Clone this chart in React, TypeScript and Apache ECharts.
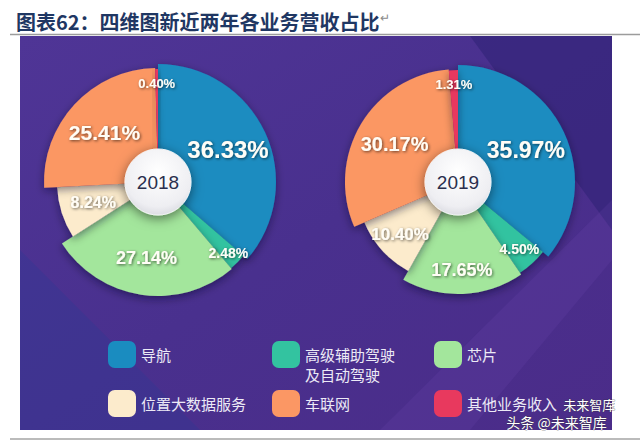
import React, { useEffect, useRef } from "react";
import * as echarts from "echarts";

// ---- data ----
const TITLE = "图表62：四维图新近两年各业务营收占比";
const CATEGORIES = ["导航", "高级辅助驾驶及自动驾驶", "芯片", "位置大数据服务", "车联网", "其他业务收入"];
const LEGEND_TEXT = ["导航", "\n高级辅助驾驶\n及自动驾驶", "芯片", "位置大数据服务", "车联网", "其他业务收入"];
const YEARS = ["2018", "2019"];
const SHARE_2018 = [36.33, 2.48, 27.14, 8.24, 25.41, 0.4];
const SHARE_2019 = [35.97, 4.5, 17.65, 10.4, 30.17, 1.31];
const SHARES = [SHARE_2018, SHARE_2019];

// ---- styles ----
const COLORS = ["#1a8cc0", "#33c3a0", "#a3e69c", "#fcebcc", "#fb9764", "#e8395e"];
const CENTERS = [[158, 182], [458, 182]];
const SLICE_R = [[118, 113, 114, 101, 114, 113], [117, 110, 112, 102, 113, 112]];
const LABEL_R = [[74, 97, 74, 65, 70, 96], [72, 88, 85, 75, 71, 95]];
const LABEL_SIZE = [[24, 14, 18, 16, 21, 13], [23, 14, 18, 17, 20, 13]];
const LEGEND_POS = [[108, 341], [272, 341], [434, 341], [108, 390], [272, 390], [434, 390]];
const LABEL_FONT = "'Liberation Sans', Arial, sans-serif";
const CJK = "'Noto Sans CJK SC', sans-serif";

function buildOption() {
  const series: any[] = [];
  YEARS.forEach((year, y) => {
    const vals = SHARES[y];
    CATEGORIES.forEach((cat, i) => {
      series.push({
        type: "pie",
        name: cat,
        center: CENTERS[y],
        radius: [0, SLICE_R[y][i]],
        startAngle: 90,
        clockwise: true,
        silent: true,
        z: 2,
        label: { show: false },
        labelLine: { show: false },
        itemStyle: { color: COLORS[i], borderWidth: 0 },
        data: vals.map((v, j) => ({
          value: v,
          name: CATEGORIES[j],
          itemStyle:
            j === i
              ? { shadowBlur: 8, shadowColor: "rgba(10,0,40,0.45)", shadowOffsetY: 3 }
              : { color: "transparent", borderWidth: 0 },
        })),
      });
    });
    CATEGORIES.forEach((cat, i) => {
      series.push({
        type: "pie",
        name: `label-${year}-${i}`,
        center: CENTERS[y],
        radius: [LABEL_R[y][i] - 1, LABEL_R[y][i] + 1],
        startAngle: 90,
        clockwise: true,
        silent: true,
        z: 5,
        labelLine: { show: false },
        itemStyle: { color: "transparent", borderWidth: 0 },
        data: vals.map((v, j) => ({
          value: v,
          name: CATEGORIES[j],
          label: {
            show: j === i,
            position: "inside",
            formatter: () => v.toFixed(2) + "%",
            color: "#fffdf6",
            fontFamily: LABEL_FONT,
            fontWeight: "bold",
            fontSize: LABEL_SIZE[y][i],
            textShadowColor: "rgba(0,0,0,0.6)",
            textShadowBlur: 3,
            textShadowOffsetX: 1,
            textShadowOffsetY: 1,
          },
        })),
      });
    });
    series.push({
      type: "pie",
      name: year,
      center: CENTERS[y],
      radius: [0, 33],
      silent: true,
      z: 8,
      labelLine: { show: false },
      label: {
        show: true,
        position: "center",
        formatter: year,
        fontSize: 19,
        color: "#2b2f4e",
        fontFamily: LABEL_FONT,
      },
      itemStyle: {
        color: {
          type: "radial",
          x: 0.5,
          y: 0.35,
          r: 0.75,
          colorStops: [
            { offset: 0, color: "#ffffff" },
            { offset: 0.7, color: "#eeeef2" },
            { offset: 1, color: "#cfd0d8" },
          ],
        },
        borderColor: "#f4f4f6",
        borderWidth: 1,
        shadowBlur: 12,
        shadowColor: "rgba(0,0,0,0.5)",
        shadowOffsetY: 3,
      },
      data: [{ value: 1, name: year }],
    });
  });

  const legend = CATEGORIES.map((cat, i) => {
    const multi = LEGEND_TEXT[i].includes("\n");
    return {
      data: [cat],
      left: LEGEND_POS[i][0],
      top: multi ? LEGEND_POS[i][1] - 16.5 : LEGEND_POS[i][1],
      padding: 0,
      orient: "horizontal",
      icon: "roundRect",
      itemWidth: 28,
      itemHeight: 27,
      selectedMode: false,
      formatter: () => LEGEND_TEXT[i],
      textStyle: {
        color: "#eceaf6",
        fontSize: 15,
        fontFamily: CJK,
        lineHeight: 20,
      },
    };
  });

  return {
    animation: false,
    backgroundColor: "#ffffff",
    title: {
      text: TITLE,
      left: 11,
      top: 6,
      textStyle: { fontSize: 20, fontWeight: "bold", color: "#1f3763", fontFamily: CJK },
    },
    legend,
    graphic: [
      { type: "line", z: 0, shape: { x1: 10, y1: 34.5, x2: 640, y2: 34.5 }, style: { stroke: "#9c9c9c", lineWidth: 1.5 } },
      { type: "line", z: 0, shape: { x1: 10, y1: 439, x2: 640, y2: 439 }, style: { stroke: "#a4a4a4", lineWidth: 1.5 } },
      {
        type: "rect",
        z: 0,
        shape: { x: 20, y: 36, width: 592, height: 394 },
        style: {
          fill: {
            type: "linear",
            x: 0,
            y: 0,
            x2: 1,
            y2: 1,
            colorStops: [
              { offset: 0, color: "#4f3596" },
              { offset: 0.5, color: "#49308e" },
              { offset: 1, color: "#4b2c89" },
            ],
          },
        },
      },
      {
        type: "polygon",
        z: 0,
        shape: { points: [[470, 36], [612, 36], [612, 230]] },
        style: { fill: "rgba(40,30,110,0.45)" },
      },
      {
        type: "polygon",
        z: 0,
        shape: { points: [[20, 250], [20, 430], [200, 430]] },
        style: { fill: "rgba(40,60,150,0.3)" },
      },
      {
        type: "polygon",
        z: 0,
        shape: { points: [[380, 430], [612, 200], [612, 260], [470, 430]] },
        style: { fill: "rgba(120,80,190,0.15)" },
      },
      {
        type: "text",
        z: 20,
        left: 380,
        top: 12,
        style: { text: "↵", fontSize: 12, fill: "#8a8a8a" },
      },
      {
        type: "text",
        z: 20,
        left: 563,
        top: 398,
        style: { text: "未来智库", font: `13px ${CJK}`, fill: "#ffffff", stroke: "#333", lineWidth: 0.5 },
      },
      {
        type: "text",
        z: 20,
        left: 506,
        top: 415,
        style: { text: "头条 @未来智库", font: `14px ${CJK}`, fill: "#ffffff", stroke: "#333", lineWidth: 0.5 },
      },
    ],
    series,
  };
}

export default function App() {
  const ref = useRef<HTMLDivElement>(null);
  useEffect(() => {
    document.body.style.margin = "0";
    const chart = echarts.init(ref.current!, undefined, { renderer: "svg" });
    chart.setOption(buildOption() as any);
    return () => chart.dispose();
  }, []);
  return <div ref={ref} style={{ width: 640, height: 442, position: "absolute", left: 0, top: 0 }} />;
}
